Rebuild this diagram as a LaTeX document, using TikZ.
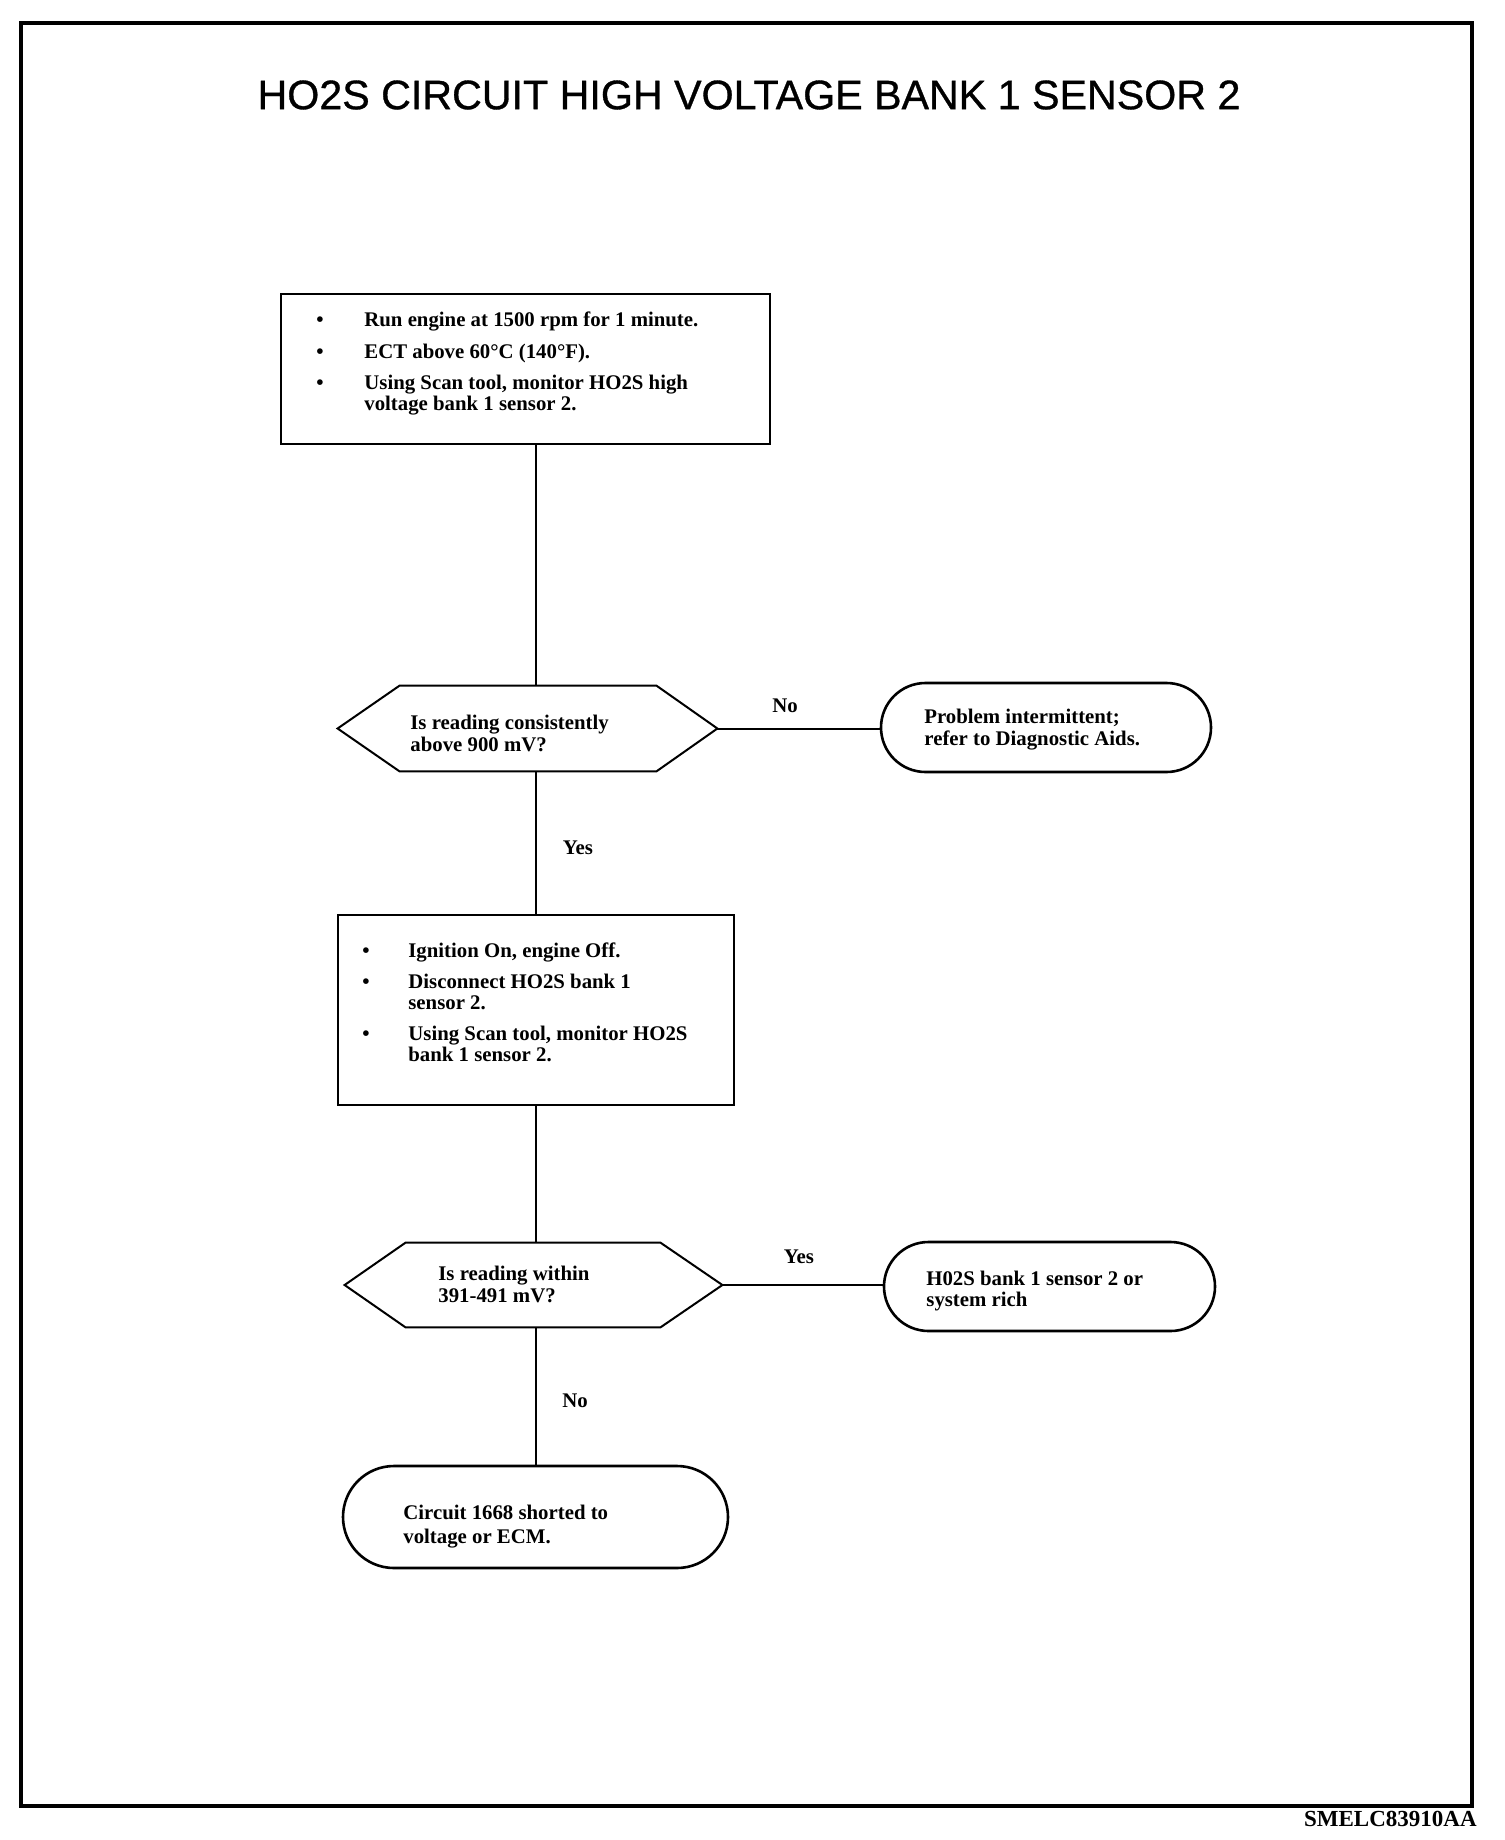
\documentclass[tikz,border=0pt]{standalone}
\usepackage{fontspec}
\setmainfont{Liberation Serif}
\newfontfamily\titlefont[FakeBold=0.8]{Liberation Sans}
\usetikzlibrary{shapes.misc,calc}
\begin{document}
\begin{tikzpicture}[x=0.5pt,y=-0.5pt,
  shapeline/.style={draw, line width=1pt},
  stepbox/.style={shapeline, rectangle, inner sep=0pt},
  hexnode/.style={rectangle, inner sep=0pt, draw=none},
  hexline/.style={line width=1pt, line join=miter},
  termnode/.style={draw, line width=1.3pt, rounded rectangle, inner sep=0pt},
  conn/.style={line width=1pt},
  txt/.style={font=\fontsize{10.4pt}{12pt}\selectfont\bfseries, inner sep=0pt, anchor=base west},
  bul/.style={font=\fontsize{10.4pt}{12pt}\selectfont\bfseries, inner sep=0pt, anchor=base},
  lbl/.style={font=\fontsize{10.4pt}{12pt}\selectfont\bfseries, inner sep=0pt}
]
\fill[white] (0,0) rectangle (1504,1840);
\useasboundingbox (0,0) rectangle (1504,1840);
\draw[line width=2.25pt] (21,23) rectangle (1472,1806);

\node[font=\titlefont\fontsize{20.6pt}{24pt}\selectfont, inner sep=0pt] (title) at (749,95) {HO2S CIRCUIT HIGH VOLTAGE BANK 1 SENSOR 2};

% shapes
\node[stepbox, minimum width=244.5pt, minimum height=75pt] (b1) at (525.5,369) {};
\node[hexnode, minimum width=189.5pt, minimum height=42.5pt] (d1) at (527.5,728.5) {};
\node[termnode, minimum width=165pt, minimum height=44.5pt] (t1) at (1046,727.5) {};
\node[stepbox, minimum width=198pt, minimum height=95pt] (b2) at (536,1010) {};
\node[hexnode, minimum width=188.5pt, minimum height=42pt] (d2) at (533.5,1285) {};
\node[termnode, minimum width=165.5pt, minimum height=44.5pt] (t2) at (1049.5,1286.5) {};
\node[termnode, minimum width=192.5pt, minimum height=51pt] (t3) at (535.5,1517) {};

\draw[hexline] (d1.west) -- ($(d1.north west)+(62,0)$) -- ($(d1.north east)+(-61,0)$) -- (d1.east) -- ($(d1.south east)+(-61,0)$) -- ($(d1.south west)+(62,0)$) -- cycle;
\draw[hexline] (d2.west) -- ($(d2.north west)+(61,0)$) -- ($(d2.north east)+(-62,0)$) -- (d2.east) -- ($(d2.south east)+(-62,0)$) -- ($(d2.south west)+(61,0)$) -- cycle;

% connectors
\draw[conn] (b1.south -| b2.north) -- (d1.north -| b2.north);
\draw[conn] (d1.south -| b2.north) -- (b2.north);
\draw[conn] (d1.east) -- (d1.east -| t1.west);
\draw[conn] (b2.south) -- (d2.north -| b2.south);
\draw[conn] (d2.east) -- (d2.east -| t2.west);
\draw[conn] (d2.south -| b2.south) -- (t3.north -| b2.south);

% labels
\node[lbl] (lno1) at (785,706) {No};
\node[lbl] (lyes1) at (578,848) {Yes};
\node[lbl] (lyes2) at (799,1257) {Yes};
\node[lbl] (lno2) at (575,1401) {No};

% box 1 text
\node[bul] (b1p1) at (320,327) {\textbullet};
\node[bul] (b1p2) at (320,358) {\textbullet};
\node[bul] (b1p3) at (320,389) {\textbullet};
\node[txt] (b1l1) at (364,327) {Run engine at 1500 rpm for 1 minute.};
\node[txt] (b1l2) at (364,358) {ECT above 60°C (140°F).};
\node[txt] (b1l3) at (364,389) {Using Scan tool, monitor HO2S high};
\node[txt] (b1l4) at (364,410) {voltage bank 1 sensor 2.};

% diamond 1 text
\node[txt] (d1l1) at (410,729) {Is reading consistently};
\node[txt] (d1l2) at (410,751) {above 900 mV?};

% terminal 1 text
\node[txt] (t1l1) at (924,723) {Problem intermittent;};
\node[txt] (t1l2) at (924,745) {refer to Diagnostic Aids.};

% box 2 text
\node[bul] (b2p1) at (366,957) {\textbullet};
\node[bul] (b2p2) at (366,988) {\textbullet};
\node[bul] (b2p3) at (366,1040) {\textbullet};
\node[txt] (b2l1) at (408,957) {Ignition On, engine Off.};
\node[txt] (b2l2) at (408,988) {Disconnect HO2S bank 1};
\node[txt] (b2l3) at (408,1009) {sensor 2.};
\node[txt] (b2l4) at (408,1040) {Using Scan tool, monitor HO2S};
\node[txt] (b2l5) at (408,1061) {bank 1 sensor 2.};

% diamond 2 text
\node[txt] (d2l1) at (438,1280) {Is reading within};
\node[txt] (d2l2) at (438,1302) {391-491 mV?};

% terminal 2 text
\node[txt] (t2l1) at (926,1285) {H02S bank 1 sensor 2 or};
\node[txt] (t2l2) at (926,1306) {system rich};

% terminal 3 text
\node[txt] (t3l1) at (403,1519) {Circuit 1668 shorted to};
\node[txt] (t3l2) at (403,1543) {voltage or ECM.};

% figure code
\node[font=\fontsize{11.5pt}{13pt}\selectfont\bfseries, inner sep=0pt, anchor=base east] (code) at (1477,1826) {SMELC83910AA};
\end{tikzpicture}
\end{document}
